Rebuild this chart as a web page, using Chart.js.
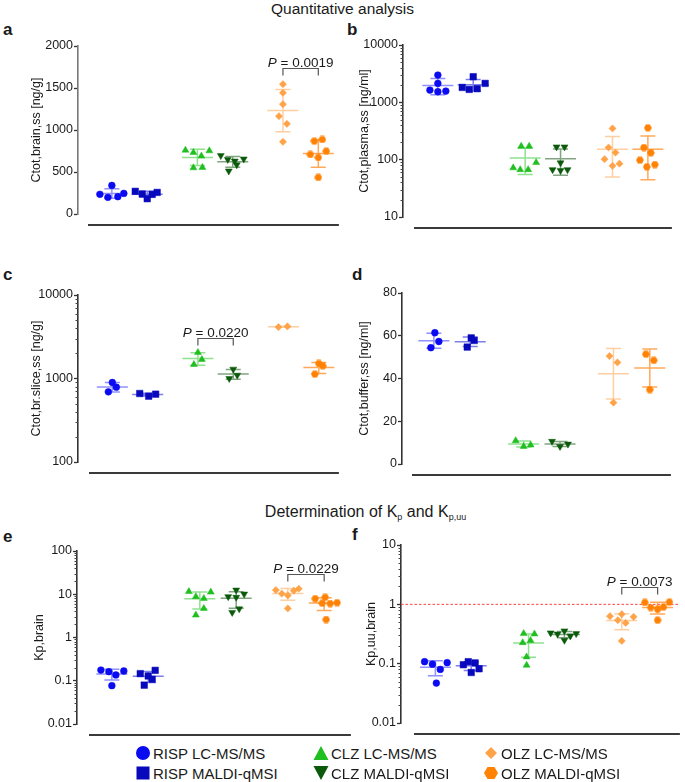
<!DOCTYPE html>
<html>
<head>
<meta charset="utf-8">
<script src="https://cdn.jsdelivr.net/npm/chart.js@4.4.1/dist/chart.umd.min.js"></script>
<style>
  body { margin: 0; width: 685px; height: 782px; position: relative; background: #fff; overflow: hidden;
         font-family: "Liberation Sans", Arial, Helvetica, sans-serif; color: #1a1a1a; }
  canvas { position: absolute; }
  .head { position: absolute; left: 0; width: 685px; text-align: center; white-space: nowrap; }
  .letter { position: absolute; font-weight: bold; font-size: 17px; line-height: 18px; }
  .lg { position: absolute; display: flex; align-items: center; height: 16px; font-size: 15px; white-space: nowrap; }
  .lg svg { margin-right: 2px; }
  sub { font-size: 9px; vertical-align: -3px; line-height: 0; }
</style>
</head>
<body>

<div class="head" style="top:0px;font-size:15.5px;line-height:17px;">Quantitative analysis</div>
<div class="head" style="top:503px;font-size:16px;line-height:18px;padding-left:46px;box-sizing:border-box;">Determination of K<sub>p</sub> and K<sub>p,uu</sub></div>

<div class="letter" style="left:3px;top:21px">a</div>
<div class="letter" style="left:347px;top:21px">b</div>
<div class="letter" style="left:3px;top:266px">c</div>
<div class="letter" style="left:352px;top:266px">d</div>
<div class="letter" style="left:3px;top:528px">e</div>
<div class="letter" style="left:352px;top:526px">f</div>

<canvas id="pa"></canvas>
<canvas id="pb"></canvas>
<canvas id="pc"></canvas>
<canvas id="pd"></canvas>
<canvas id="pe"></canvas>
<canvas id="pf"></canvas>

<div id="legend"></div>

<script>
// groups (same order in every panel)
const groups = ['RISP LC-MS/MS', 'RISP MALDI-qMSI', 'CLZ LC-MS/MS', 'CLZ MALDI-qMSI', 'OLZ LC-MS/MS', 'OLZ MALDI-qMSI'];

// a: Ctot,brain,ss [ng/g]
const brainValues = [
  [234, 198, 340, 206, 245],
  [270, 238, 182, 234, 257],
  [760, 733, 550, 689, 554, 752],
  [695, 650, 512, 630, 585, 655],
  [1545, 1442, 1307, 1164, 1073, 859],
  [867, 887, 709, 673, 748, 436]
];
// b: Ctot,plasma,ss [ng/ml]
const plasmaValues = [
  [1635, 2990, 2140, 1529, 1570],
  [2798, 1820, 1680, 1730, 2140],
  [172, 172, 72, 67, 67, 89],
  [167, 167, 88, 67, 65, 67],
  [350, 163, 133, 102, 78, 85],
  [359, 163, 132, 98, 75, 82]
];
// c: Ctot,br.slice,ss [ng/g]
const sliceValues = [
  [895, 787, 692],
  [661, 614, 649],
  [2051, 1690, 1472],
  [1294, 1096, 1000],
  [4130, 4207],
  [1514, 1419, 1127]
];
// d: Ctot,buffer,ss [ng/ml]
const bufferValues = [
  [61.4, 57.3, 54.4],
  [59.0, 57.8, 54.7],
  [10.9, 8.2, 8.9],
  [10.6, 8.2, 9.3],
  [50.5, 47.5, 28.7],
  [51.4, 48.5, 34.8]
];
// e: Kp,brain
const kpValues = [
  [0.177, 0.162, 0.136, 0.168, 0.077],
  [0.146, 0.129, 0.174, 0.108, 0.079],
  [11.5, 11.2, 8.8, 8.0, 4.7, 3.3],
  [8.8, 8.5, 10.1, 12.5, 3.8, 4.6],
  [12.5, 10.3, 9.4, 12.1, 13.4, 4.7],
  [7.9, 8.5, 6.2, 6.1, 6.4, 2.6]
];
// f: Kp,uu,brain
const kpuuValues = [
  [0.108, 0.098, 0.104, 0.080, 0.047],
  [0.096, 0.108, 0.103, 0.082, 0.071],
  [0.321, 0.316, 0.226, 0.245, 0.130, 0.094],
  [0.330, 0.316, 0.357, 0.294, 0.321, 0.248],
  [0.631, 0.682, 0.615, 0.540, 0.486, 0.242],
  [1.074, 1.090, 0.883, 0.828, 0.900, 0.540]
];

// horizontal scatter of the dots inside each column (px), as placed in the figure
const brainJitter  = [[-12,-4,0,6,12], [-12,-5,0,5,10], [-12,-4,-4,4,5,12], [-12,-5,-4,2,4,11], [0,0,0,-4,4,0], [-4,4,-8,0,8,0]];
const plasmaJitter = [[-8,0,0,0,8], [0,-11,-4,4,12], [-4,4,-12,-5,3,11], [-4,4,0,-8,0,7], [0,-4,3,-8,0,7], [0,-4,3,-8,-1,7]];
const sliceJitter  = [[0,4,-4], [-8,1,8], [0,4,-4], [0,4,-4], [-5,4], [0,4,-4]];
const bufferJitter = [[1,5,-3], [1,4,-3], [-8,0,7], [-8,0,8], [-4,4,0], [-4,4,0]];
const kpJitter     = [[-11,-3,4,12,0], [-8,0,7,4,-4], [-11,11,-4,4,4,-4], [-8,0,8,0,-4,3], [-12,-6,0,6,11,0], [-9,1,-2,6,13,2]];
const kpuuJitter   = [[-11,-3,12,5,1], [-8,-3,4,8,0], [-5,6,-6,2,-2,-2], [-14,-7,0,6,12,0], [-12,0,12,-4,4,0], [-13,12,-7,0,6,0]];

// significance brackets
const brainP = { pair: [4, 5], at: 1740, text: '0.0019' };
const sliceP = { pair: [2, 3], at: 3020, text: '0.0220' };
const kpP    = { pair: [4, 5], at: 28.8, text: '0.0229' };
const kpuuP  = { pair: [4, 5], at: 1.93, text: '0.0073' };

const FONT = '"Liberation Sans", Arial, Helvetica, sans-serif';
const dotColors = ['#0b0bf2', '#0808bd', '#1fbf1f', '#0b5a0b', '#ffa348', '#ff8205'];
const barColors = ['rgba(70,70,255,0.6)', 'rgba(40,40,215,0.6)', 'rgba(70,205,70,0.6)', 'rgba(45,105,45,0.6)', 'rgba(255,175,100,0.6)', 'rgba(255,140,35,0.75)'];

function hexagon(size, r, color) {
  const c = document.createElement('canvas');
  c.width = size; c.height = size;
  const g = c.getContext('2d');
  g.fillStyle = color;
  g.beginPath();
  for (let k = 0; k < 6; k++) {
    const a = k * Math.PI / 3;
    g.lineTo(size / 2 + r * Math.cos(a), size / 2 + r * Math.sin(a));
  }
  g.closePath();
  g.fill();
  return c;
}

const styles = [
  { pointStyle: 'circle', radius: 3.4, rot: 0 },
  { pointStyle: 'rect', radius: 4.6, rot: 0 },
  { pointStyle: 'triangle', radius: 4.0, rot: 0 },
  { pointStyle: 'triangle', radius: 4.0, rot: 180 },
  { pointStyle: 'rectRot', radius: 3.6, rot: 0 },
  { pointStyle: hexagon(8, 3.9, dotColors[5]), radius: 4, rot: 0 }
];

const isPow10 = v => { const l = Math.log10(v); return Math.abs(l - Math.round(l)) < 1e-6; };
const fmt = v => String(Number(v.toPrecision(6)));

function logTicks(min, max) {
  const out = [];
  for (let k = Math.floor(Math.log10(min)); k <= Math.ceil(Math.log10(max)); k++) {
    for (let m = 1; m <= 9; m++) {
      const v = Number((m * Math.pow(10, k)).toPrecision(6));
      if (v >= min * 0.9999 && v <= max * 1.0001) out.push({ value: v });
    }
  }
  return out;
}

function meanSd(a) {
  const m = a.reduce((s, v) => s + v, 0) / a.length;
  const sd = a.length > 1 ? Math.sqrt(a.reduce((s, v) => s + (v - m) * (v - m), 0) / (a.length - 1)) : 0;
  return [m, sd];
}

const extras = {
  id: 'extras',
  beforeDatasetsDraw(chart) {
    const { ctx, chartArea, scales: { x, y } } = chart;
    const o = chart.options.plugins.extras;
    ctx.save();
    // reference line (Kp,uu = 1)
    if (o.refLine) {
      const py = y.getPixelForValue(o.refLine);
      ctx.strokeStyle = '#ff3b3b';
      ctx.lineWidth = 1;
      ctx.setLineDash([2.5, 2]);
      ctx.beginPath(); ctx.moveTo(chartArea.left, py); ctx.lineTo(chartArea.right, py); ctx.stroke();
      ctx.setLineDash([]);
    }
    // mean and SD
    chart.data.datasets.forEach(ds => {
      const [m, sd] = meanSd(ds.data.map(p => p.y));
      const cx = x.getPixelForValue(ds.center);
      const hi = y.getPixelForValue(m + sd);
      const lo = y.getPixelForValue(Math.max(m - sd, y.min));
      const pm = y.getPixelForValue(m);
      ctx.strokeStyle = ds.barColor;
      ctx.lineWidth = 1.5;
      ctx.beginPath();
      ctx.moveTo(cx - 15.5, pm); ctx.lineTo(cx + 15.5, pm);
      ctx.moveTo(cx, hi); ctx.lineTo(cx, lo);
      ctx.moveTo(cx - 7.5, hi); ctx.lineTo(cx + 7.5, hi);
      ctx.moveTo(cx - 7.5, lo); ctx.lineTo(cx + 7.5, lo);
      ctx.stroke();
    });
    ctx.restore();
  },
  afterDraw(chart) {
    const { ctx, chartArea, scales: { x, y } } = chart;
    const o = chart.options.plugins.extras;
    ctx.save();
    // minor ticks on log axes
    if (y.type === 'logarithmic') {
      ctx.strokeStyle = '#444';
      ctx.lineWidth = 1;
      ctx.beginPath();
      y.ticks.forEach(t => {
        if (isPow10(t.value)) return;
        const py = Math.round(y.getPixelForValue(t.value)) + 0.5;
        ctx.moveTo(chartArea.left - 2.5, py); ctx.lineTo(chartArea.left, py);
      });
      ctx.stroke();
    }
    // detached x baseline
    ctx.strokeStyle = '#3a3a3a';
    ctx.lineWidth = 1.8;
    ctx.beginPath();
    ctx.moveTo(chartArea.left + o.baseInset, chartArea.bottom + 11);
    ctx.lineTo(chartArea.right, chartArea.bottom + 11);
    ctx.stroke();
    // P bracket
    if (o.bracket) {
      const b = o.bracket;
      const x1 = x.getPixelForValue(chart.data.datasets[b.pair[0]].center);
      const x2 = x.getPixelForValue(chart.data.datasets[b.pair[1]].center);
      const py = Math.round(y.getPixelForValue(b.at)) + 0.5;
      ctx.strokeStyle = '#555';
      ctx.lineWidth = 1.2;
      ctx.beginPath();
      ctx.moveTo(x1, py + 7); ctx.lineTo(x1, py); ctx.lineTo(x2, py); ctx.lineTo(x2, py + 7);
      ctx.stroke();
      ctx.fillStyle = '#1a1a1a';
      ctx.textBaseline = 'alphabetic';
      const fi = 'italic 13.5px ' + FONT, fn = '13.5px ' + FONT;
      ctx.font = fi; const w1 = ctx.measureText('P').width;
      ctx.font = fn; const rest = ' = ' + b.text; const w2 = ctx.measureText(rest).width;
      const sx = (x1 + x2) / 2 - (w1 + w2) / 2;
      ctx.font = fi; ctx.fillText('P', sx, py - 1.5);
      ctx.font = fn; ctx.fillText(rest, sx + w1, py - 1.5);
    }
    ctx.restore();
  }
};

function panel(id, values, jitter, L, axis, bracket, refLine) {
  const cv = document.getElementById(id);
  const padR = L.padR;
  const W = L.right + padR - L.left;
  const H = L.bottom - L.top + 32;
  cv.width = W; cv.height = H;
  cv.style.left = L.left + 'px';
  cv.style.top = (L.top - 16) + 'px';
  cv.style.width = W + 'px'; cv.style.height = H + 'px';

  const pos = g => Math.floor(g / 2) * L.gap + (g % 2);
  const datasets = values.map((vals, g) => ({
    data: vals.map((v, k) => ({ x: pos(g) + jitter[g][k] / L.unit, y: v })),
    center: pos(g),
    barColor: barColors[g],
    backgroundColor: dotColors[g],
    borderColor: dotColors[g],
    borderWidth: 0.5,
    pointStyle: styles[g].pointStyle,
    pointRadius: styles[g].radius,
    pointRotation: styles[g].rot
  }));

  const log = axis.log;
  new Chart(cv, {
    type: 'scatter',
    data: { datasets },
    plugins: [extras],
    options: {
      responsive: false,
      animation: false,
      devicePixelRatio: 1,
      layout: { padding: { top: 16, bottom: 16, left: 0, right: padR } },
      plugins: {
        legend: { display: false },
        tooltip: { enabled: false },
        extras: { bracket, refLine, baseInset: L.baseInset }
      },
      scales: {
        x: {
          type: 'linear', display: false,
          min: -L.first / L.unit,
          max: (L.right - L.axisX - L.first) / L.unit
        },
        y: {
          type: log ? 'logarithmic' : 'linear',
          min: axis.min, max: axis.max,
          afterFit: s => { s.width = L.axisX - L.left; },
          afterBuildTicks: log ? s => { s.ticks = logTicks(axis.min, axis.max); } : undefined,
          ticks: {
            stepSize: axis.step,
            autoSkip: false,
            color: '#1a1a1a',
            padding: 1,
            font: { family: FONT, size: 12.5 },
            callback: v => (log ? (isPow10(v) ? fmt(v) : '') : String(v))
          },
          grid: {
            drawOnChartArea: false,
            drawTicks: true,
            tickLength: 4,
            tickWidth: 1.3,
            tickColor: c => (!log || isPow10(c.tick.value)) ? '#333' : 'rgba(0,0,0,0)'
          },
          border: { display: true, color: axis.axisColor || '#333', width: 1.6 },
          title: {
            display: true,
            text: axis.title,
            color: '#1a1a1a',
            font: { family: FONT, size: 12.5 },
            padding: { top: L.titleX - L.left - 7.5, bottom: 0 }
          }
        }
      }
    }
  });
}

panel('pa', brainValues, brainJitter,
  { left: 0, top: 46, bottom: 214, axisX: 78, right: 340, padR: 4, unit: 35.5, gap: 2.42, first: 34, baseInset: 10, titleX: 37 },
  { log: false, min: 0, max: 2000, step: 500, title: 'Ctot,brain,ss [ng/g]', axisColor: '#777' }, brainP);

panel('pb', plasmaValues, plasmaJitter,
  { left: 345, top: 45, bottom: 217, axisX: 403, right: 673, padR: 4, unit: 35.5, gap: 2.47, first: 35, baseInset: 11, titleX: 365 },
  { log: true, min: 10, max: 10000, title: 'Ctot,plasma,ss [ng/ml]' });

panel('pc', sliceValues, sliceJitter,
  { left: 0, top: 295, bottom: 462, axisX: 78, right: 340, padR: 4, unit: 35.5, gap: 2.42, first: 34.5, baseInset: 11, titleX: 37 },
  { log: true, min: 100, max: 10000, title: 'Ctot,br.slice,ss [ng/g]' }, sliceP);

panel('pd', bufferValues, bufferJitter,
  { left: 345, top: 293, bottom: 464, axisX: 402, right: 672, padR: 4, unit: 36.5, gap: 2.47, first: 32, baseInset: 10, titleX: 365 },
  { log: false, min: 0, max: 80, step: 20, title: 'Ctot,buffer,ss [ng/ml]' });

panel('pe', kpValues, kpJitter,
  { left: 0, top: 551, bottom: 724, axisX: 77, right: 352, padR: 4, unit: 36.5, gap: 2.42, first: 35, baseInset: 12, titleX: 40 },
  { log: true, min: 0.01, max: 100, title: 'Kp,brain' }, kpP);

panel('pf', kpuuValues, kpuuJitter,
  { left: 345, top: 545, bottom: 723, axisX: 401, right: 685, padR: 0, unit: 36.5, gap: 2.6, first: 35, baseInset: 13, titleX: 372 },
  { log: true, min: 0.01, max: 10, title: 'Kp,uu,brain' }, kpuuP, 1);

// legend
const legendMarks = [
  '<circle cx="8" cy="8" r="7" fill="' + dotColors[0] + '"/>',
  '<rect x="1.5" y="1.5" width="13" height="13" fill="' + dotColors[1] + '"/>',
  '<polygon points="8,1 15.5,15 0.5,15" fill="' + dotColors[2] + '"/>',
  '<polygon points="0.5,1 15.5,1 8,15" fill="' + dotColors[3] + '"/>',
  '<polygon points="8,2 14,8 8,14 2,8" fill="' + dotColors[4] + '"/>',
  '<polygon points="15,8 11.5,14.1 4.5,14.1 1,8 4.5,1.9 11.5,1.9" fill="' + dotColors[5] + '"/>'
];
const legendX = [135, 313, 483];
const legendY = [745, 765];
document.getElementById('legend').innerHTML = groups.map((name, i) =>
  '<div class="lg" style="left:' + legendX[Math.floor(i / 2)] + 'px;top:' + legendY[i % 2] + 'px">' +
  '<svg width="16" height="16">' + legendMarks[i] + '</svg><span>' + name + '</span></div>'
).join('');
</script>
</body>
</html>
